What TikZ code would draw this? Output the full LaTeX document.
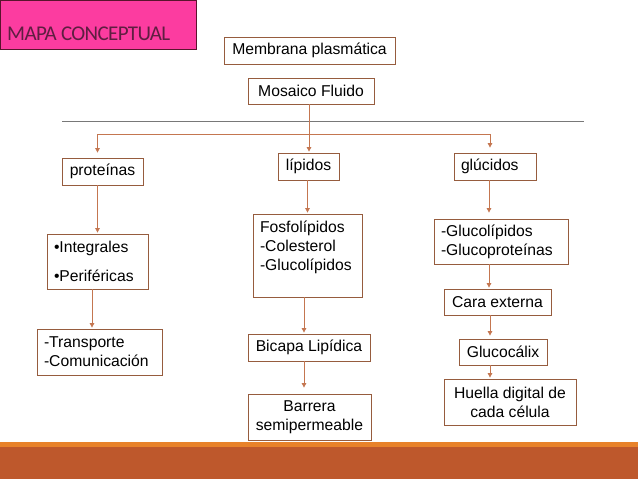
\documentclass[tikz,border=0pt]{standalone}
\usepackage{fontspec}
\setmainfont{Liberation Sans}
\newfontfamily\titulofont[LetterSpace=-3]{Carlito}
\usetikzlibrary{arrows.meta}

\definecolor{rosa}{RGB}{252,60,160}
\definecolor{vino}{RGB}{90,20,45}
\definecolor{tinta}{RGB}{95,30,65}
\definecolor{marron}{RGB}{150,92,62}
\definecolor{cobre}{RGB}{196,118,80}
\definecolor{gris}{RGB}{120,120,120}
\definecolor{naranja}{RGB}{232,130,42}
\definecolor{ladrillo}{RGB}{190,88,44}

\tikzset{
  caja/.style={draw=marron,line width=0.8pt,inner xsep=7pt,inner ysep=0pt,
    font=\fontsize{15.7}{19}\selectfont},
  flecha/.style={draw=cobre,line width=0.8pt,-{Triangle[length=4.5pt,width=4.5pt]},shorten >=1pt}
}

\begin{document}
\begin{tikzpicture}[x=1pt,y=-1pt]

\useasboundingbox (0,0) rectangle (638,479);

% titulo
\filldraw[fill=rosa,draw=vino,line width=0.8pt] (0,0) rectangle (196,49);
\node[anchor=base west,inner sep=0pt,text=tinta,font=\titulofont\fontsize{21}{24}\selectfont] (titulo) at (7,41) {MAPA CONCEPTUAL};

\node[caja,minimum width=171pt,minimum height=27pt] (membrana) at (309.5,50.5) {Membrana plasmática};
\node[caja,minimum width=126pt,minimum height=26pt] (mosaico) at (311,91) {Mosaico Fluido};

\draw[gris,line width=0.8pt] (62,121) -- (584,121);

% tres ramas
\node[caja,minimum width=81pt,minimum height=27pt] (prot) at (102.5,171.5) {proteínas};
\node[caja,minimum width=61pt,minimum height=27pt] (lip) at (308.5,166.5) {lípidos};
\node[caja,text width=68pt,minimum height=27pt,align=left] (gluc) at (495,166.5) {glúcidos};

\coordinate (ramal) at (309,134);
\draw[flecha] (mosaico.south -| ramal) -- (lip.north -| ramal);
\draw[flecha,shorten >=5pt] (ramal) -| ([xshift=-5pt]prot.north);
\draw[flecha,shorten >=5pt] (ramal) -| ([xshift=-5pt]gluc.north);

% proteinas
\node[caja,text width=87pt,minimum height=55pt,align=left] (integ) at (97.5,261.5) {•Integrales\\[10pt]•Periféricas};
\node[caja,text width=111pt,minimum height=46pt,align=left] (trans) at (99.5,352) {-Transporte\\-Comunicación};

\draw[flecha] (prot.south -| integ.north) -- (integ.north);
\draw[flecha] ([xshift=-5.5pt]integ.south) -- ([xshift=-5.5pt]integ.south |- trans.north);

% lipidos
\node[caja,text width=95pt,minimum height=83pt,align=left] (fosfo) at (307.5,255.5) {Fosfolípidos\\-Colesterol\\-Glucolípidos\\~};
\node[caja,minimum width=122pt,minimum height=27pt] (bicapa) at (309,347.5) {Bicapa Lipídica};
\node[caja,minimum width=123pt,minimum height=46pt,align=center] (barrera) at (309.5,417) {Barrera\\semipermeable};

\draw[flecha] (lip.south -| fosfo.north) -- (fosfo.north);
\draw[flecha] ([xshift=-3.5pt]fosfo.south) -- ([xshift=-3.5pt]fosfo.south |- bicapa.north);
\draw[flecha,shorten >=6pt] ([xshift=-5pt]bicapa.south) -- ([xshift=-5pt]bicapa.south |- barrera.north);

% glucidos
\node[caja,text width=120pt,minimum height=45pt,align=left] (glucolip) at (501,241.5) {-Glucolípidos\\-Glucoproteínas};
\node[caja,minimum width=107pt,minimum height=26pt] (cara) at (497.5,302) {Cara externa};
\node[caja,minimum width=88pt,minimum height=26pt] (glucocalix) at (503,352) {Glucocálix};
\node[caja,minimum width=132pt,minimum height=46pt,align=center] (huella) at (510,402) {Huella digital de\\cada célula};

\draw[flecha,shorten >=6pt] ([xshift=-6pt]gluc.south) -- ([xshift=-6pt]gluc.south |- glucolip.north);
\draw[flecha] ([xshift=-12pt]glucolip.south) -- ([xshift=-12pt]glucolip.south |- cara.north);
\draw[flecha,shorten >=3pt] ([xshift=-7.5pt]cara.south) -- ([xshift=-7.5pt]cara.south |- glucocalix.north);
\draw[flecha] ([xshift=-13pt]glucocalix.south) -- ([xshift=-13pt]glucocalix.south |- huella.north);

% franja inferior
\fill[naranja] (0,442) rectangle (638,447);
\fill[ladrillo] (0,447) rectangle (638,479);

\end{tikzpicture}
\end{document}
